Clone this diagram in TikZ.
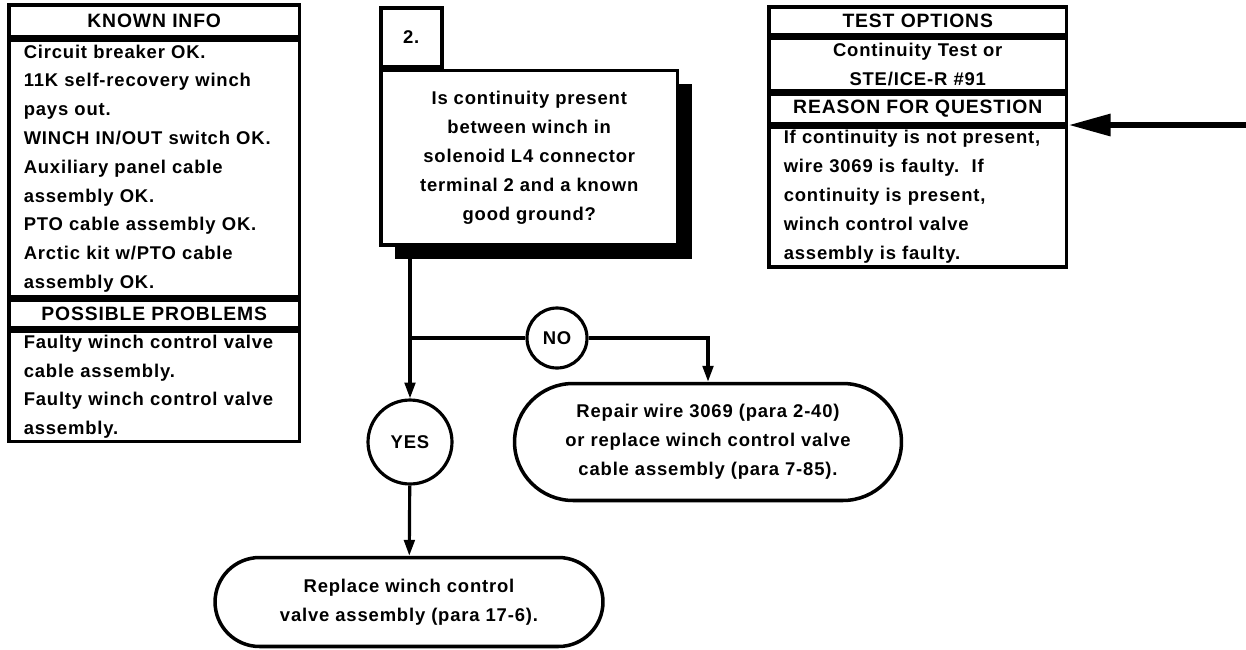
\documentclass[tikz,border=0pt]{standalone}
\usepackage{fontspec}
\setmainfont[LetterSpace=4.5]{Liberation Sans}
\usetikzlibrary{arrows.meta,shadows}

\begin{document}
\begin{tikzpicture}[x=0.02cm, y=-0.02cm, line width=1.8pt,
    >={Triangle[length=9pt,width=6pt]},
    every node/.style={font=\bfseries\fontsize{10.5}{16.4}\selectfont},
    hdr/.style={draw, line width=2pt, inner sep=0pt, anchor=north,
        font=\bfseries\fontsize{11}{12}\selectfont},
    list/.style={draw, line width=2pt, inner xsep=0.3cm, inner ysep=0pt, anchor=north},
    answer/.style={circle, draw, inner sep=0pt},
    action/.style={draw, line width=2pt, align=center, inner sep=0pt},
    bigarrow/.style={-{Triangle[length=24pt,width=12pt]}, line width=3.4pt, line cap=round}]

    \useasboundingbox (0,0) rectangle (1246,649);

    % Left column: what is known and what can be wrong
    \node[hdr, anchor=north west, minimum width=5.82cm, minimum height=0.64cm] (known) at (7,3) {KNOWN INFO};
    \node[list, align=left, text width=5.22cm, minimum height=5.13cm] (knownlist) at (known.south) {Circuit breaker OK.\\
        11K self-recovery winch\\
        pays out.\\
        WINCH IN/OUT switch OK.\\
        Auxiliary panel cable\\
        assembly OK.\\
        PTO cable assembly OK.\\
        Arctic kit w/PTO cable\\
        assembly OK.};
    \node[hdr, minimum width=5.82cm, minimum height=0.56cm] (possible) at (knownlist.south) {POSSIBLE PROBLEMS};
    \node[list, align=left, text width=5.22cm, minimum height=2.2cm] (possiblelist) at (possible.south) {Faulty winch control valve\\
        cable assembly.\\
        Faulty winch control valve\\
        assembly.};

    % Right column: test options and reason
    \node[hdr, anchor=north west, minimum width=5.96cm, minimum height=0.56cm] (tests) at (767,5) {TEST OPTIONS};
    \node[list, align=center, text width=5.36cm, minimum height=1.05cm] (testlist) at (tests.south) {Continuity Test or\\
        STE/ICE-R \#91};
    \node[hdr, minimum width=5.96cm, minimum height=0.58cm] (reason) at (testlist.south) {REASON FOR QUESTION};
    \node[list, align=left, text width=5.36cm, minimum height=2.8cm] (reasonlist) at (reason.south) {If continuity is not present,\\
        wire 3069 is faulty.\ \ If\\
        continuity is present,\\
        winch control valve\\
        assembly is faulty.};

    % Question with step number and shadow
    \node[draw, line width=2pt, anchor=north west, minimum width=1.22cm, minimum height=1.18cm, inner sep=0pt] (step) at (379,6) {2.};
    \node[draw, line width=2pt, fill=white, anchor=north west, minimum width=5.94cm, minimum height=3.5cm,
        align=center, inner sep=0pt,
        drop shadow={shadow xshift=0.28cm, shadow yshift=-0.28cm, opacity=1, fill=black}] (question) at (step.south west) {Is continuity present\\
        between winch in\\
        solenoid L4 connector\\
        terminal 2 and a known\\
        good ground?};

    % Answers and actions
    \coordinate (split) at (410,338);
    \node[answer, minimum size=1.2cm] (no) at (557,338) {NO};
    \node[answer, minimum size=1.68cm] (yes) at (410,442) {YES};
    \node[action, rounded corners=1.17cm, minimum width=7.74cm, minimum height=2.34cm] (repair) at (708,442) {Repair wire 3069 (para 2-40)\\
        or replace winch control valve\\
        cable assembly (para 7-85).};
    \node[action, rounded corners=0.89cm, minimum width=7.76cm, minimum height=1.78cm] (replace) at (409,602) {Replace winch control\\
        valve assembly (para 17-6).};

    \draw (question.south -| split) -- (split) -- (no);
    \draw[->] (no) -| (repair.north);
    \draw[->] (split) -- (yes);
    \draw[->] (yes) -- (replace);

    % Entry arrow
    \path (reason.south east) ++(177,0) coordinate (feed);
    \draw[bigarrow] (feed) -- (reason.south east);
\end{tikzpicture}
\end{document}
